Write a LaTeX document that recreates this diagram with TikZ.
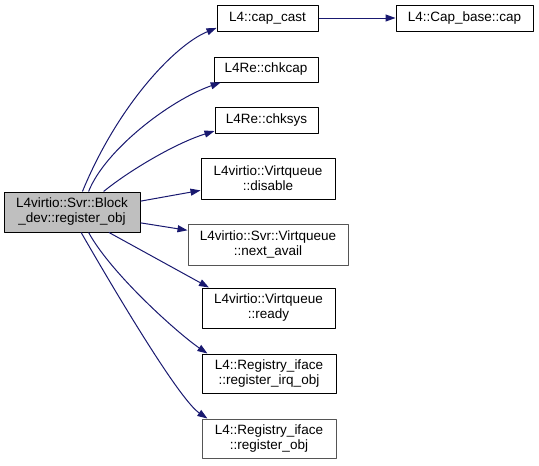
\documentclass[tikz,border=0pt]{standalone}
\usepackage{fontspec}
\setmainfont{Liberation Sans}
\usetikzlibrary{arrows.meta}
\definecolor{edgeblue}{HTML}{191970}
\definecolor{rootfill}{HTML}{BFBFBF}
\definecolor{nodocline}{HTML}{555555}

\begin{document}
\begin{tikzpicture}[
  x=1pt, y=-1pt,
  line width=1pt, line join=round,
  >={Triangle[length=10pt, width=7pt]},
  fn/.style = {draw=black, line width=1pt, fill=white, inner sep=0pt,
               align=center, anchor=center,
               font=\fontsize{13.5}{15}\selectfont},
  root/.style = {fn, fill=rootfill},
  nodoc/.style = {fn, draw=nodocline},
  call/.style = {->, draw=edgeblue}
]
\useasboundingbox (0,0) rectangle (539,466);

\node[root, minimum width=136pt, minimum height=40pt] (regobj) at (72,212)
  {L4virtio::Svr::Block\\\_dev::register\_obj};

\node[fn, minimum width=101pt, minimum height=26pt] (capcast) at (267.5,18) {L4::cap\_cast};
\node[fn, minimum width=137pt, minimum height=26pt] (capbase) at (464.5,18) {L4::Cap\_base::cap};
\node[fn, minimum width=104pt, minimum height=25pt] (chkcap) at (266,69.5) {L4Re::chkcap};
\node[fn, minimum width=103pt, minimum height=26pt] (chksys) at (266.5,120) {L4Re::chksys};
\node[fn, minimum width=134pt, minimum height=41pt] (disable) at (268,178.5)
  {L4virtio::Virtqueue\\::disable};
\node[nodoc, minimum width=160pt, minimum height=41pt] (nextavail) at (268,244.5)
  {L4virtio::Svr::Virtqueue\\::next\_avail};
\node[fn, minimum width=133pt, minimum height=40pt] (ready) at (268.5,308)
  {L4virtio::Virtqueue\\::ready};
\node[fn, minimum width=134pt, minimum height=39pt] (irqobj) at (269,373.5)
  {L4::Registry\_iface\\::register\_irq\_obj};
\node[nodoc, minimum width=134pt, minimum height=39pt] (ifaceobj) at (269,438.5)
  {L4::Registry\_iface\\::register\_obj};

% calls out of register_obj
\draw[call] (regobj.63) .. controls (118,105) and (175,45) .. (capcast.191);
\draw[call] (regobj.51) .. controls (105,150) and (170,100) .. (chkcap.196);
\draw[call] (regobj.33) .. controls (130,170) and (176,143) .. (chksys.192);
\draw[call] (regobj.9) -- (disable.190);
\draw[call] (regobj.351) -- (nextavail.170);
\draw[call] (regobj.331) -- (ready.161);
\draw[call] (regobj.309) .. controls (112,275) and (180,335) .. (irqobj.162);
\draw[call] (regobj.294) .. controls (120,300) and (180,400) .. (ifaceobj.162);

% cap_cast -> Cap_base::cap
\draw[call] (capcast) -- (capbase);

\end{tikzpicture}
\end{document}
